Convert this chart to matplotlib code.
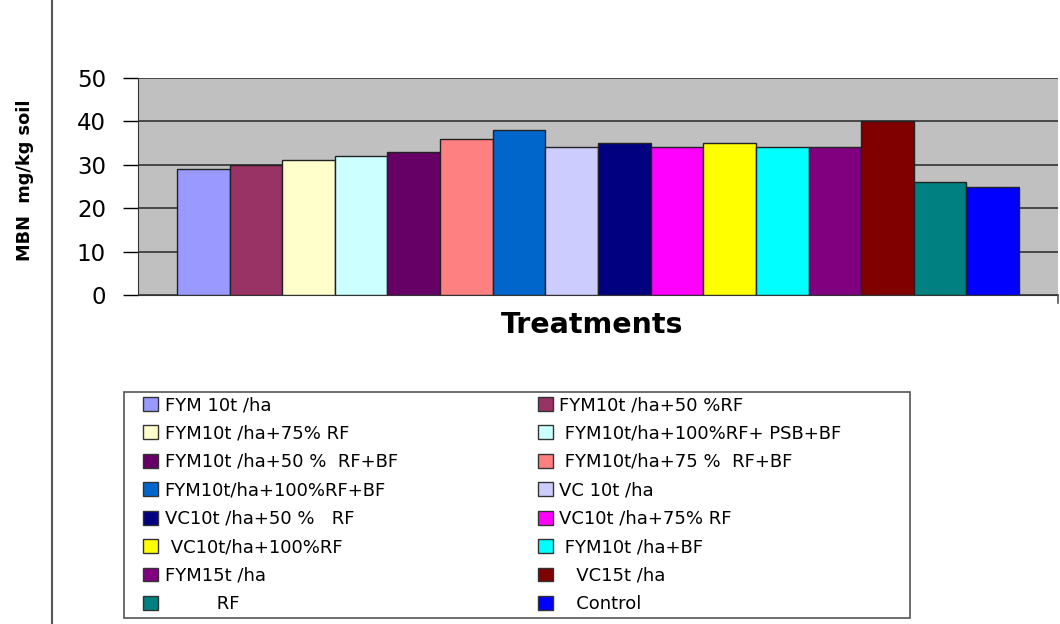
import matplotlib.pyplot as plt
from matplotlib.patches import Patch, Rectangle
from matplotlib.lines import Line2D

plt.rcParams["font.family"] = ["DejaVu Sans"]

treatments = ["FYM 10t /ha", "FYM10t /ha+50 %RF", "FYM10t /ha+75% RF",
              " FYM10t/ha+100%RF+ PSB+BF", "FYM10t /ha+50 %  RF+BF",
              " FYM10t/ha+75 %  RF+BF", "FYM10t/ha+100%RF+BF", "VC 10t /ha",
              "VC10t /ha+50 %   RF", "VC10t /ha+75% RF", " VC10t/ha+100%RF",
              " FYM10t /ha+BF", "FYM15t /ha", "   VC15t /ha", "         RF",
              "   Control"]
mbn = [29, 30, 31, 32, 33, 36, 38, 34, 35, 34, 35, 34, 34, 40, 26, 25]
colors = ["#9999FF", "#993366", "#FFFFCC", "#CCFFFF", "#660066", "#FF8080",
          "#0066CC", "#CCCCFF", "#000080", "#FF00FF", "#FFFF00", "#00FFFF",
          "#800080", "#800000", "#008080", "#0000FF"]

W, H = 1060, 624
fig = plt.figure(figsize=(10.6, 6.24), dpi=100)
ax = fig.add_axes([138 / W, 1 - 295 / H, 920 / W, 217 / H])
ax.set_facecolor("#C0C0C0")

ax.bar(range(len(mbn)), mbn, width=1.0, color=colors, edgecolor="#222222",
       linewidth=1.0, zorder=3)
ax.set_xlim(-1.24, 16.24)
ax.set_ylim(0, 50)
ax.set_yticks([0, 10, 20, 30, 40, 50])
ax.yaxis.grid(True, color="#333333", linewidth=1.2, zorder=1)
ax.set_xticks([])
ax.tick_params(axis="y", labelsize=16.5, length=11, width=1.0, pad=12)
for s in ["top", "right"]:
    ax.spines[s].set_visible(False)
ax.spines["left"].set_color("#333333")
ax.spines["bottom"].set_color("#333333")

ax.set_ylabel("MBN  mg/kg soil", fontsize=12.8, fontweight="bold")
ax.yaxis.set_label_coords(-0.113, 0.53)
fig.text(592 / W, 1 - 333 / H, "Treatments", fontsize=20.5, fontweight="bold",
         ha="center", va="baseline")

# legend: original reading order is row-wise, matplotlib fills column-wise
handles = [Patch(facecolor=c, edgecolor="#333333", label=t)
           for c, t in zip(colors, treatments)]
ordered = handles[0::2] + handles[1::2]
fig.legend(handles=ordered, ncol=2, loc="upper left",
           bbox_to_anchor=(143 / W, 1 - 396 / H),
           fontsize=13, frameon=False, handlelength=0.85, handleheight=0.8,
           handletextpad=0.35, labelspacing=0.58, borderaxespad=0,
           columnspacing=7.75, borderpad=0)
fig.add_artist(Rectangle((124 / W, 1 - 618 / H), 786 / W, 226 / H,
                         transform=fig.transFigure, fill=False,
                         edgecolor="#555555", linewidth=1.2))

fig.add_artist(Line2D([52 / W, 52 / W], [0, 1], color="#555555",
                      linewidth=1.5, transform=fig.transFigure))
fig.add_artist(Line2D([1058 / W, 1058 / W], [1 - 295 / H, 1 - 303 / H],
                      color="#555555", linewidth=1.2, transform=fig.transFigure))

fig.savefig("out.png", dpi=100)
